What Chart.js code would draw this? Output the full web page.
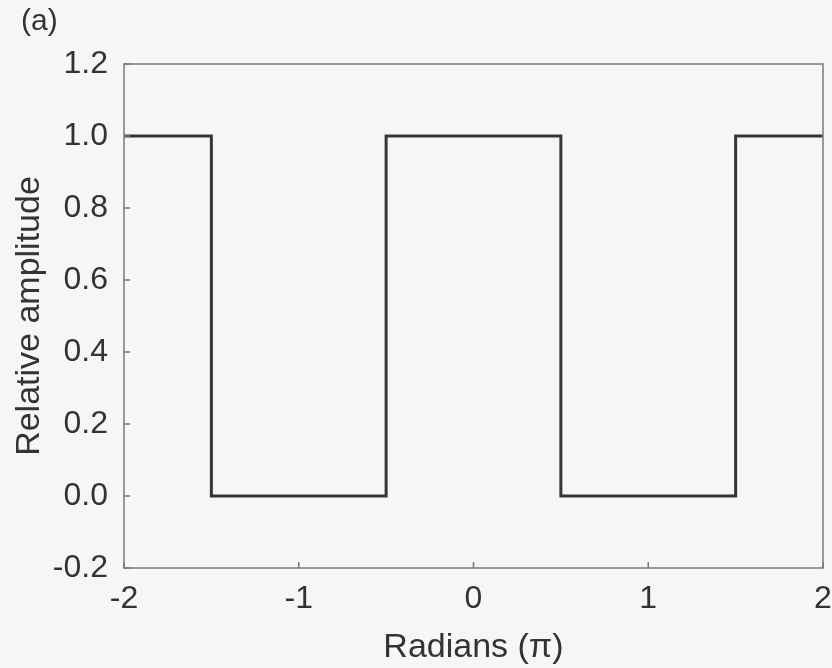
<!DOCTYPE html>
<html>
<head>
<meta charset="utf-8">
<script src="https://cdn.jsdelivr.net/npm/chart.js@4.4.1/dist/chart.umd.min.js"></script>
<style>
  html, body { margin: 0; padding: 0; background: #f6f6f6; }
  #wrap { position: relative; width: 832px; height: 668px; }
  #panel { position: absolute; left: 21px; top: 3px; font: 30px "Liberation Sans", Arial, sans-serif; color: #333; }
</style>
</head>
<body>
<div id="wrap">
  <canvas id="squareChart" width="832" height="668"></canvas>
  <div id="panel">(a)</div>
</div>
<script>
// square wave corners (radians in units of pi) and amplitudes
const radians = [-2, -1.5, -1.5, -0.5, -0.5, 0.5, 0.5, 1.5, 1.5, 2];
const amplitude = [1, 1, 0, 0, 1, 1, 0, 0, 1, 1];
const xTicks = [-2, -1, 0, 1, 2];
const yTicks = [-0.2, 0, 0.2, 0.4, 0.6, 0.8, 1.0, 1.2];

const fontFamily = '"Liberation Sans", Arial, sans-serif';

// box around the plot plus inward tick marks
const frame = {
    id: 'frame',
    afterDraw(chart) {
        const ctx = chart.ctx;
        const a = chart.chartArea;
        const xs = chart.scales.x, ys = chart.scales.y;
        ctx.save();
        ctx.strokeStyle = '#7a7a7a';
        ctx.lineWidth = 1.5;
        ctx.strokeRect(a.left, a.top, a.right - a.left, a.bottom - a.top);
        ctx.beginPath();
        xTicks.forEach(v => {
            const px = xs.getPixelForValue(v);
            ctx.moveTo(px, a.bottom);
            ctx.lineTo(px, a.bottom - 6);
        });
        yTicks.forEach(v => {
            const py = ys.getPixelForValue(v);
            ctx.moveTo(a.left, py);
            ctx.lineTo(a.left + 6, py);
        });
        ctx.stroke();
        ctx.restore();
    }
};

const ctx = document.getElementById('squareChart').getContext('2d');
new Chart(ctx, {
    type: 'scatter',
    data: {
        datasets: [{
            data: radians.map((r, i) => ({ x: r, y: amplitude[i] })),
            showLine: true,
            borderColor: '#363636',
            borderWidth: 3,
            pointRadius: 0,
            fill: false
        }]
    },
    options: {
        responsive: false,
        animation: false,
        layout: { padding: { left: 0, top: 64, right: 9, bottom: 0 } },
        plugins: { legend: { display: false }, tooltip: { enabled: false } },
        scales: {
            x: {
                type: 'linear',
                min: -2, max: 2,
                afterBuildTicks: s => { s.ticks = xTicks.map(v => ({ value: v })); },
                afterFit: s => { s.height = 100; s.paddingRight = 0; s.paddingLeft = 0; },
                grid: { display: false, drawTicks: false },
                border: { display: false },
                ticks: {
                    color: '#333',
                    padding: 12,
                    maxRotation: 0,
                    font: { family: fontFamily, size: 32 },
                    callback: v => String(v)
                },
                title: {
                    display: true,
                    text: 'Radians (π)',
                    color: '#333',
                    font: { family: fontFamily, size: 34 },
                    padding: { top: 0, bottom: 0 }
                }
            },
            y: {
                min: -0.2, max: 1.2,
                afterBuildTicks: s => { s.ticks = yTicks.map(v => ({ value: v })); },
                afterFit: s => { s.width = 124; s.paddingTop = 0; s.paddingBottom = 0; },
                grid: { display: false, drawTicks: false },
                border: { display: false },
                ticks: {
                    color: '#333',
                    padding: 16,
                    font: { family: fontFamily, size: 32 },
                    callback: v => v.toFixed(1)
                },
                title: {
                    display: true,
                    text: 'Relative amplitude',
                    color: '#333',
                    font: { family: fontFamily, size: 34 },
                    padding: { top: 9, bottom: 0 }
                }
            }
        }
    },
    plugins: [frame]
});
</script>
</body>
</html>
